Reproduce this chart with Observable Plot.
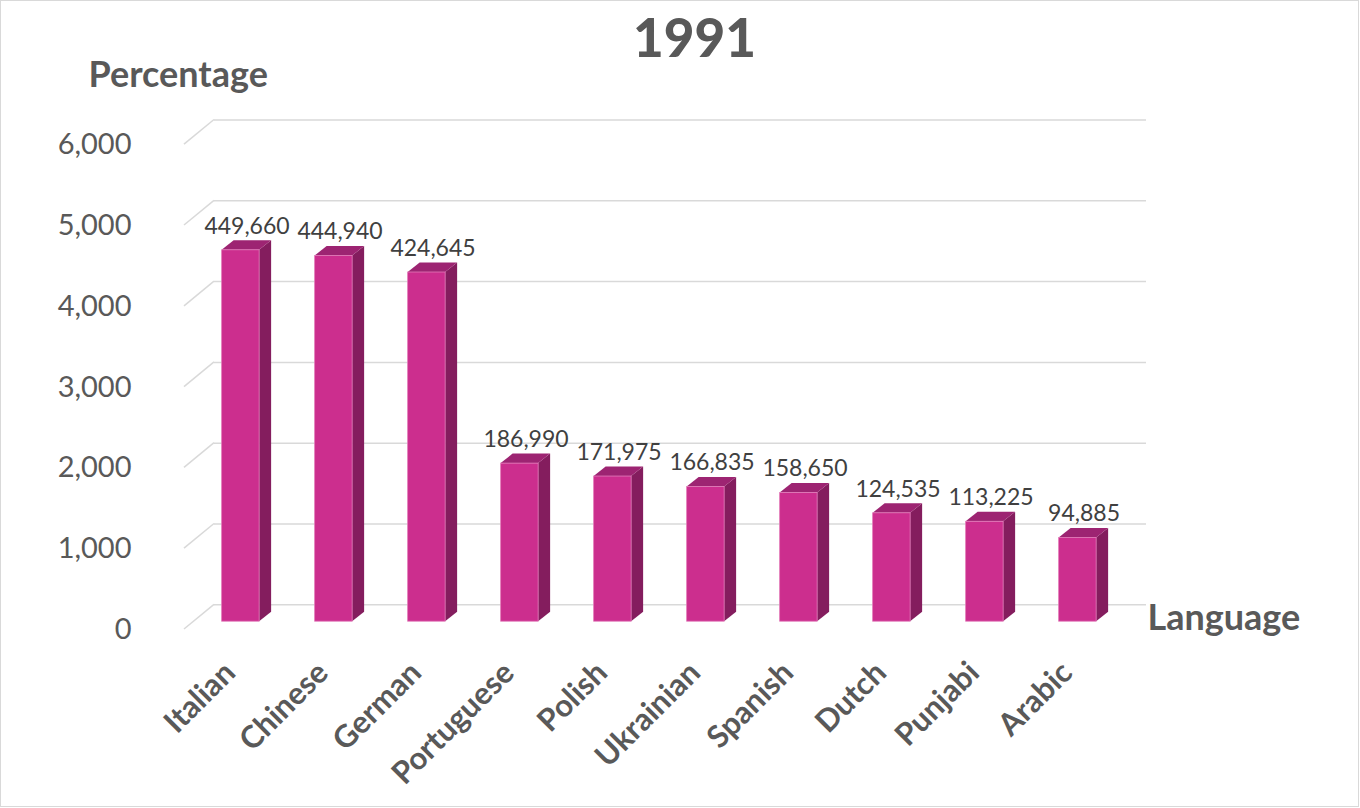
<!DOCTYPE html>
<html>
<head>
<meta charset="utf-8">
<script src="https://cdn.jsdelivr.net/npm/d3@7"></script>
<script src="https://cdn.jsdelivr.net/npm/@observablehq/plot@0.6"></script>
<style>
  body { margin: 0; background: #ffffff; }
  #wrap { position: relative; width: 1360px; height: 808px; overflow: hidden; background: #fff; }
  #chart svg { display: block; }
  #border { position: absolute; left: 0; top: 0; width: 1357px; height: 805px; border: 1.5px solid #d9d9d9; pointer-events: none; }
</style>
</head>
<body>
<div id="wrap"><div id="chart"></div><div id="border"></div></div>
<script>
// ---- data ----
const chartTitle = "1991";
const yLabel = "Percentage";
const xLabel = "Language";
const languages = ["Italian", "Chinese", "German", "Portuguese", "Polish", "Ukrainian", "Spanish", "Dutch", "Punjabi", "Arabic"];
const barValues = [4510, 4440, 4235, 1870, 1710, 1580, 1505, 1255, 1150, 950];
const speakers = [449660, 444940, 424645, 186990, 171975, 166835, 158650, 124535, 113225, 94885];
const yTicks = [0, 1000, 2000, 3000, 4000, 5000, 6000];

// ---- styles ----
const frontColor = "#cc2e8e";
const sideColor = "#841d5e";
const topColor = "#9d2472";
const gridColor = "#d9d9d9";
const textColor = "#595959";
const fmt = d3.format(",");

const rows = languages.map((language, i) => ({language, value: barValues[i], speakers: speakers[i]}));

// 3D depth geometry (pixels)
const wallDx = 30, wallBackDy = -9.9, wallFrontDy = 14.8;
const barDx = 12, barDy = 9.5;

function depthLines(index, scales, values, dimensions) {
  const y = scales.y;
  const x0 = dimensions.marginLeft;
  const g = d3.create("svg:g");
  for (const t of yTicks) {
    g.append("line")
      .attr("x1", x0).attr("y1", y(t) + wallFrontDy)
      .attr("x2", x0 + wallDx).attr("y2", y(t) + wallBackDy)
      .attr("stroke", gridColor).attr("stroke-width", 1.5);
  }
  return g.node();
}

function prisms(index, scales) {
  const x = scales.x, y = scales.y;
  const step = x(languages[1]) - x(languages[0]);
  const g = d3.create("svg:g");
  rows.forEach(r => {
    const x0 = x(r.language) + step * 0.394;
    const w = step * 0.403;
    const yt = y(r.value);
    const yb = y(0) + 7;
    g.append("polygon")
      .attr("points", [[x0 + w, yt], [x0 + w + barDx, yt - barDy], [x0 + w + barDx, yb - barDy], [x0 + w, yb]].join(" "))
      .attr("fill", sideColor);
    g.append("polygon")
      .attr("points", [[x0, yt], [x0 + barDx, yt - barDy], [x0 + w + barDx, yt - barDy], [x0 + w, yt]].join(" "))
      .attr("fill", topColor);
    g.append("rect")
      .attr("x", x0).attr("y", yt).attr("width", w).attr("height", yb - yt)
      .attr("fill", frontColor).attr("stroke", "#e27ab9").attr("stroke-width", 0.8);
  });
  return g.node();
}

const chart = Plot.plot({
  width: 1360,
  height: 808,
  marginTop: 129.4,
  marginBottom: 193.8,
  marginLeft: 184,
  marginRight: 244,
  x: {type: "band", domain: languages, padding: 0, axis: null},
  y: {domain: [0, 6000], axis: null},
  style: {fontFamily: "Lato, 'Open Sans', sans-serif", background: "#ffffff", overflow: "visible"},
  marks: [
    Plot.ruleY(yTicks, {dx: wallDx, dy: wallBackDy, stroke: gridColor, strokeWidth: 1.5}),
    depthLines,
    prisms,
    Plot.text(yTicks, {y: d => d, text: d => fmt(d), frameAnchor: "left", dx: -53, dy: 15,
      textAnchor: "end", lineAnchor: "middle", fontSize: 29, fill: textColor}),
    Plot.text(rows, {x: "language", y: "value", text: d => fmt(d.speakers), dx: 15, dy: -24,
      lineAnchor: "middle", fontSize: 23, fill: "#404040"}),
    Plot.text(rows, {x: "language", text: "language", frameAnchor: "bottom", dx: -2, dy: 53,
      rotate: -45, textAnchor: "end", lineAnchor: "middle", fontSize: 31, fontWeight: "bold", fill: textColor}),
    Plot.text([chartTitle], {frameAnchor: "top", dx: 44, dy: 40 - 129.4, lineAnchor: "middle",
      fontSize: 53, fontWeight: 900, fill: textColor}),
    Plot.text([yLabel], {frameAnchor: "top-left", dx: -96, dy: 74.5 - 129.4, textAnchor: "start",
      lineAnchor: "middle", fontSize: 36, fontWeight: "bold", fill: textColor}),
    Plot.text([xLabel], {frameAnchor: "bottom-right", dx: 31, dy: 3.8, textAnchor: "start",
      lineAnchor: "middle", fontSize: 36, fontWeight: "bold", fill: textColor})
  ]
});
document.getElementById("chart").appendChild(chart);
</script>
</body>
</html>
